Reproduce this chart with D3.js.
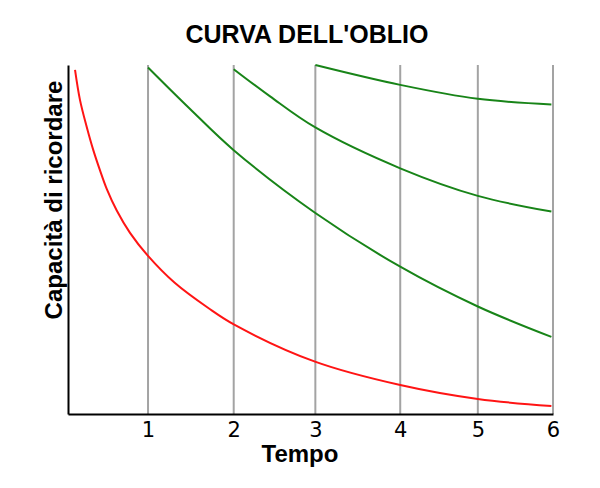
<!DOCTYPE html>
<html>
<head>
<meta charset="utf-8">
<script src="https://cdn.jsdelivr.net/npm/d3@7"></script>
<style>
  html, body { margin: 0; padding: 0; background: #ffffff; }
  svg { display: block; }
</style>
</head>
<body>
<svg id="chart" width="600" height="488"></svg>
<script>
// ---- Data ----
const title = "CURVA DELL'OBLIO";
const xTitle = "Tempo";
const yTitle = "Capacità di ricordare";

// review moments (vertical grey lines) in time units, with their labels
const reviewTimes = [0.99, 2.05, 3.06, 4.11, 5.07, 6.0];
const tickLabels = ["1", "2", "3", "4", "5", "6"];

// forgetting curve without review (red)
const redT = [0.087, 0.148, 0.231, 0.313, 0.396, 0.479, 0.603, 0.767, 0.99, 1.32, 1.74, 2.057, 3.056, 4.11, 5.07, 5.98];
const redV = [98.6, 90.0, 82.3, 75.6, 69.8, 64.5, 58.3, 51.9, 45.3, 37.6, 30.3, 25.6, 15.0, 8.3, 4.3, 2.3];

// curves after each review (green)
const green1T = [0.99, 1.51, 2.05, 3.06, 4.11, 5.07, 5.98];
const green1V = [99.3, 87.4, 75.6, 57.6, 42.2, 30.8, 22.1];
const green2T = [2.05, 2.5, 3.06, 4.11, 5.07, 5.98];
const green2V = [98.8, 91.0, 82.1, 70.4, 62.5, 58.0];
const green3T = [3.06, 4.11, 5.07, 5.98];
const green3V = [100.0, 94.3, 90.3, 88.7];

// ---- Chart ----
const svg = d3.select("#chart");
const x = d3.scaleLinear().domain([0, 6]).range([68, 553]);
const y = d3.scaleLinear().domain([0, 100]).range([414, 65]);

const zip = (ts, vs) => ts.map((t, i) => ({ t, v: vs[i] }));
const line = d3.line().x(d => x(d.t)).y(d => y(d.v)).curve(d3.curveCatmullRom.alpha(0.5));

// grid lines at review moments
svg.append("g")
  .selectAll("line")
  .data(reviewTimes)
  .join("line")
  .attr("x1", d => x(d)).attr("x2", d => x(d))
  .attr("y1", y(100)).attr("y2", y(0))
  .attr("stroke", "#a3a3a3")
  .attr("stroke-width", 2);

// curves
const series = [
  { pts: zip(redT, redV), color: "#ff1414" },
  { pts: zip(green1T, green1V), color: "#188418" },
  { pts: zip(green2T, green2V), color: "#188418" },
  { pts: zip(green3T, green3V), color: "#188418" }
];
svg.append("g")
  .selectAll("path")
  .data(series)
  .join("path")
  .attr("d", d => line(d.pts))
  .attr("fill", "none")
  .attr("stroke", d => d.color)
  .attr("stroke-width", 2);

// x axis
const xAxis = d3.axisBottom(x)
  .tickValues(reviewTimes)
  .tickFormat((d, i) => tickLabels[i])
  .tickSizeInner(0)
  .tickSizeOuter(0)
  .tickPadding(8);
const gx = svg.append("g").attr("transform", `translate(0,${y(0)})`).call(xAxis);
gx.select(".domain").attr("stroke", "#000").attr("stroke-width", 2);
gx.selectAll("text")
  .attr("font-family", "'DejaVu Sans', sans-serif")
  .attr("font-size", 21)
  .attr("fill", "#000");

// y axis (line only)
const yAxis = d3.axisLeft(y).tickValues([]).tickSizeOuter(0);
const gy = svg.append("g").attr("transform", `translate(${x(0)},0)`).call(yAxis);
gy.select(".domain").attr("stroke", "#000").attr("stroke-width", 2);

// titles
svg.append("text")
  .attr("x", 307).attr("y", 43)
  .attr("text-anchor", "middle")
  .attr("font-family", "'Liberation Sans', Arial, sans-serif")
  .attr("font-weight", "bold")
  .attr("font-size", 25)
  .text(title);

svg.append("text")
  .attr("x", 300).attr("y", 462)
  .attr("text-anchor", "middle")
  .attr("font-family", "'Liberation Sans', Arial, sans-serif")
  .attr("font-weight", "bold")
  .attr("font-size", 24)
  .text(xTitle);

svg.append("text")
  .attr("transform", "translate(62,200) rotate(-90)")
  .attr("text-anchor", "middle")
  .attr("font-family", "'Liberation Sans', Arial, sans-serif")
  .attr("font-weight", "bold")
  .attr("font-size", 24)
  .text(yTitle);
</script>
</body>
</html>
